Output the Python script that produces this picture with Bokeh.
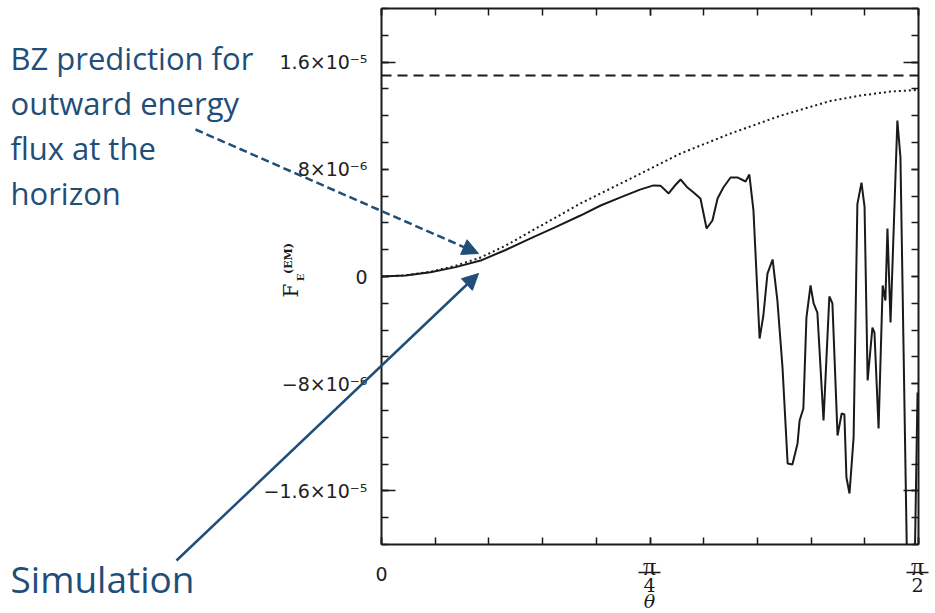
import numpy as np
from bokeh.plotting import figure
from bokeh.models import Range1d, LinearAxis, FixedTicker, Label, Arrow, NormalHead
from bokeh.embed import file_html
from bokeh.resources import INLINE

# Polar angle theta (rad) and outward EM energy flux at the horizon (units of 1e-6)
theta_sim = [0.000, 0.070, 0.143, 0.217, 0.290, 0.363, 0.436, 0.509, 0.582, 0.641,
             0.699, 0.758, 0.796, 0.816, 0.840, 0.857, 0.875, 0.895, 0.913, 0.933,
             0.951, 0.968, 0.983, 1.000, 1.021, 1.041, 1.065, 1.076, 1.088, 1.106,
             1.117, 1.129, 1.144, 1.158, 1.173, 1.188, 1.202, 1.217, 1.223, 1.234,
             1.243, 1.255, 1.264, 1.275, 1.293, 1.310, 1.319, 1.334, 1.346, 1.354,
             1.360, 1.369, 1.381, 1.392, 1.404, 1.413, 1.422, 1.436, 1.442, 1.454,
             1.466, 1.474, 1.480, 1.489, 1.509, 1.518, 1.544, 1.553, 1.568]
flux_sim = [0.00, 0.07, 0.32, 0.70, 1.19, 1.98, 2.84, 3.69, 4.55, 5.30,
            5.90, 6.50, 6.80, 6.78, 6.20, 6.75, 7.24, 6.64, 6.27, 5.82,
            3.58, 4.18, 5.82, 6.64, 7.39, 7.39, 7.09, 7.61, 4.93, -4.63,
            -2.91, 0.22, 1.27, -1.79, -6.79, -13.96, -14.03, -12.46, -10.75, -9.85,
            -3.06, -0.67, -2.01, -2.69, -10.75, -1.49, -2.01, -11.87, -10.22, -10.30,
            -15.00, -16.19, -12.01, 5.40, 7.01, 5.20, -7.76, -3.81, -4.18, -11.34,
            -0.67, -1.79, 3.58, -3.43, 11.64, 8.88, -32.0, -32.0, -8.66]

# Blandford-Znajek prediction
theta_bz = [0.000, 0.070, 0.143, 0.217, 0.290, 0.363, 0.436, 0.509, 0.582, 0.728,
            0.875, 1.021, 1.167, 1.313, 1.401, 1.489, 1.571]
flux_bz = [0.00, 0.09, 0.35, 0.80, 1.42, 2.30, 3.36, 4.40, 5.45, 7.30,
           9.18, 10.67, 12.00, 13.10, 13.50, 13.80, 13.93]
bz_total_level = 15.0

y_ticks = [-16, -8, 0, 8, 16]
y_long_ticks = [-16, 16]
y_tick_labels = ["\u22121.6\u00d710\u207b\u2075", "\u22128\u00d710\u207b\u2076", "0",
                 "8\u00d710\u207b\u2076", "1.6\u00d710\u207b\u2075"]
y_minor = list(range(-20, 21, 2))
x_ticks = [0.0, np.pi / 4, np.pi / 2]
x_minor = [k * np.pi / 20 for k in range(11)]

INK = "#1a1a1a"
BLUE = "#1f4e79"

# canvas size and the pixel box that holds the data panel
W, H = 935, 613
BL, BR, BT, BB = 381, 918, 8, 544
X0, X1 = 0.0, np.pi / 2
Y0, Y1 = -20.0, 20.0


def dx(px):
    return X0 + (px - BL) / (BR - BL) * (X1 - X0)


def dy(py):
    return Y1 - (py - BT) / (BB - BT) * (Y1 - Y0)


def clip_polyline(xs, ys, lo, hi):
    """Cut a polyline at the panel's y limits, breaking it where it leaves."""
    out_x, out_y = [], []

    def inside(v):
        return lo <= v <= hi

    for i, (x, y) in enumerate(zip(xs, ys)):
        if i > 0:
            xp, yp = xs[i - 1], ys[i - 1]
            if inside(yp) != inside(y):
                b = lo if min(yp, y) < lo else hi
                t = (b - yp) / (y - yp)
                out_x.append(xp + t * (x - xp))
                out_y.append(b)
                if inside(yp):
                    out_x.append(np.nan)
                    out_y.append(np.nan)
        if inside(y):
            out_x.append(x)
            out_y.append(y)
    return out_x, out_y


# the frame covers the whole canvas; the panel's axes are pinned in place
p = figure(width=W, height=H,
           x_range=Range1d(dx(0), dx(W)), y_range=Range1d(dy(H), dy(0)),
           output_backend="svg", toolbar_location=None,
           x_axis_location=None, y_axis_location=None,
           min_border=0)
p.grid.visible = False
p.outline_line_color = None
p.background_fill_color = "white"
p.border_fill_color = "white"


def make_axis(ticks, minor, where, bounds, major_len, minor_len, labels=None,
              line=True):
    ax = LinearAxis(ticker=FixedTicker(ticks=ticks, minor_ticks=minor),
                    fixed_location=where, bounds=bounds,
                    axis_line_width=2, axis_line_color=INK if line else None,
                    major_tick_in=major_len, major_tick_out=0,
                    minor_tick_in=minor_len, minor_tick_out=0,
                    major_tick_line_width=1.5, minor_tick_line_width=1.5,
                    major_tick_line_color=INK, minor_tick_line_color=INK)
    if labels is None:
        ax.major_label_text_color = None
    else:
        ax.major_label_overrides = labels
        ax.major_label_standoff = 14
        ax.major_label_text_font = "DejaVu Sans"
        ax.major_label_text_font_size = "19px"
        ax.major_label_text_color = "#222222"
    return ax


p.add_layout(make_axis(y_ticks, y_minor, X0, (Y0, Y1), 7, 7,
                       dict(zip(y_ticks, y_tick_labels))), "left")
p.add_layout(make_axis(y_ticks, y_minor, X1, (Y0, Y1), 7, 7), "right")
# longer ticks at +-1.6e-5 on both sides
p.add_layout(make_axis(y_long_ticks, [], X0, (Y0, Y1), 14, 0, line=False), "left")
p.add_layout(make_axis(y_long_ticks, [], X1, (Y0, Y1), 15, 0, line=False), "right")
p.add_layout(make_axis(x_ticks, x_minor, Y0, (X0, X1), 7, 7), "below")
p.add_layout(make_axis(x_ticks, x_minor, Y1, (X0, X1), 7, 7), "above")

# curves
p.line([X0, X1], [bz_total_level, bz_total_level], line_color=INK,
       line_width=2, line_dash="10 6")
p.line(theta_bz, flux_bz, line_color=INK, line_width=2, line_dash="2 3")
sx, sy = clip_polyline(theta_sim, flux_sim, Y0, Y1)
p.line(sx, sy, line_color=INK, line_width=2)


def add_text(px, py, text, font, size, style="normal", angle=0.0, color=INK,
             align="center", baseline="middle"):
    p.add_layout(Label(x=dx(px), y=dy(py), text=text, text_font=font,
                       text_font_size=size, text_font_style=style, angle=angle,
                       text_color=color, text_align=align, text_baseline=baseline))


# x tick labels as fractions of pi
add_text(381, 573, "0", "DejaVu Sans", "19px", color="#222222")
for frac_x, denom in ((649, "4"), (917, "2")):
    add_text(frac_x, 566, "\u03c0", "Liberation Serif", "26px")
    p.add_layout(Arrow(end=None, x_start=dx(frac_x - 11), y_start=dy(572),
                       x_end=dx(frac_x + 11), y_end=dy(572),
                       line_color=INK, line_width=1.5))
    add_text(frac_x, 584, denom, "DejaVu Serif", "19px")
add_text(649, 600, "\u03b8", "DejaVu Serif", "19px", style="italic")

# y axis title F_E^(EM), rotated
add_text(290, 290, "F", "DejaVu Serif", "20px", angle=np.pi / 2)
add_text(300, 277, "E", "DejaVu Serif", "10px", style="bold", angle=np.pi / 2)
add_text(288, 258, "(EM)", "DejaVu Serif", "11px", style="bold", angle=np.pi / 2)

# call-outs
for i, line in enumerate(["BZ prediction for", "outward energy", "flux at the", "horizon"]):
    add_text(10, 57 + i * 45.3, line, "Open Sans", "31px", color=BLUE,
             align="left", baseline="middle")
add_text(10, 578, "Simulation", "Open Sans", "37px", color=BLUE,
         align="left", baseline="middle")

p.add_layout(Arrow(end=NormalHead(size=16, fill_color=BLUE, line_color=BLUE),
                   x_start=dx(195), y_start=dy(129), x_end=dx(478), y_end=dy(253),
                   line_color=BLUE, line_width=2.5, line_dash="8 4"))
p.add_layout(Arrow(end=NormalHead(size=16, fill_color=BLUE, line_color=BLUE),
                   x_start=dx(176), y_start=dy(560), x_end=dx(478), y_end=dy(273),
                   line_color=BLUE, line_width=2.5))

open("out.html", "w").write(file_html(p, INLINE))
